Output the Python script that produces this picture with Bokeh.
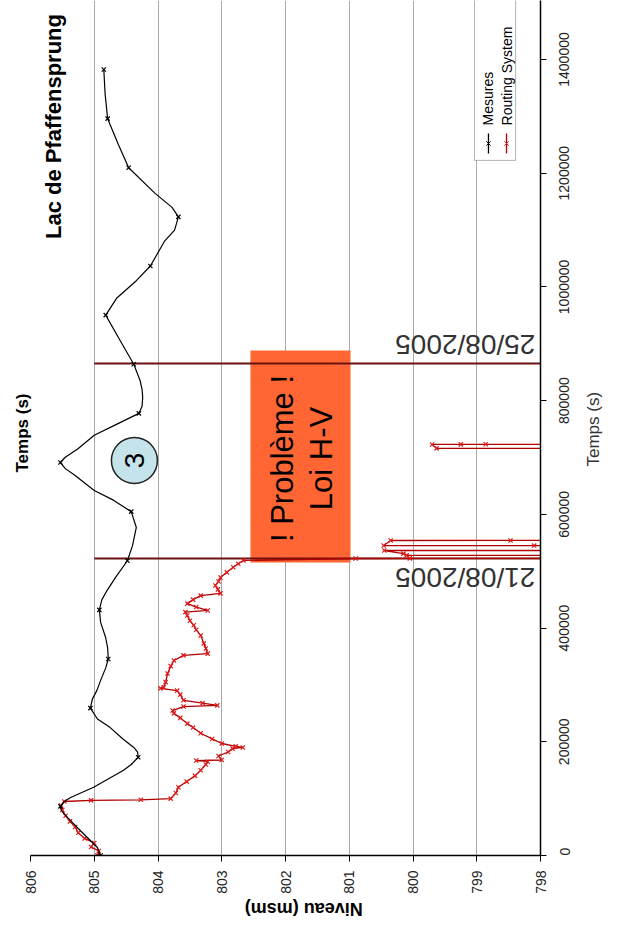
import math
from bokeh.plotting import figure
from bokeh.models import (Range1d, FixedTicker, Label, BoxAnnotation, LinearAxis,
                          CustomJSTickFormatter)
from bokeh.embed import file_html
from bokeh.resources import INLINE

# ---------------- data ----------------
mes_t = [0, 14000, 44000, 60000, 74000, 80000, 86400, 95000, 102000, 120000, 150000, 160000,
         172800, 182000, 190000, 205000, 225000, 240000, 259200, 275000, 290000, 308000,
         330000, 345600, 365000, 383000, 410000, 432000, 450000, 466000, 490000, 518400,
         545000, 577000, 604800, 625000, 642000, 670000, 680000, 691200, 700000, 715000,
         739000, 760000, 777600, 790000, 806000, 820000, 835000, 864000, 905000, 950400,
         980000, 1011000, 1036800, 1080000, 1100000, 1123200, 1140000, 1165000, 1209600,
         1250000, 1296000, 1340000, 1382400]
mes_h = [804.90, 804.95, 805.22, 805.36, 805.48, 805.52, 805.53, 805.47, 805.37, 805.01, 804.54, 804.42,
         804.31, 804.32, 804.38, 804.55, 804.75, 804.95, 805.06, 805.03, 804.96, 804.90,
         804.82, 804.78, 804.79, 804.82, 804.90, 804.92, 804.88, 804.80, 804.66, 804.48,
         804.40, 804.34, 804.42, 804.70, 805.00, 805.32, 805.45, 805.53, 805.46, 805.26,
         805.00, 804.62, 804.30, 804.25, 804.24, 804.25, 804.28, 804.38, 804.59, 804.82,
         804.65, 804.34, 804.12, 803.90, 803.74, 803.68, 803.78, 804.05, 804.46,
         804.62, 804.79, 804.83, 804.85]
# daily markers of Mesures
mes_mark_t = [0, 86400, 172800, 259200, 345600, 432000, 518400, 604800, 691200, 777600,
              864000, 950400, 1036800, 1123200, 1209600, 1296000, 1382400]
mes_mark_h = [804.90, 805.53, 804.31, 805.06, 804.78, 804.92, 804.48, 804.42, 805.53, 804.30,
              804.38, 804.82, 804.12, 803.68, 804.46, 804.79, 804.85]

# Routing System (red)
rs_t = [0, 8000, 15000, 22000, 30000, 40000, 50000, 60000, 70000, 80000,
        88000, 95000, 97000, 98000, 100000, 110000, 120000, 130000, 140000, 150000,
        160000, 165000, 167000, 168000, 175000, 182000, 188000, 190000, 192000, 197000,
        205000, 215000, 225000, 232000, 242000, 250000, 255000, 262000, 264000, 268000,
        273000, 283000, 290000, 294000, 296000, 305000, 320000, 333000, 343000, 352000,
        355000, 364000, 373000, 387000, 397000, 405000, 413000, 422000, 428000, 431000,
        437000, 443000, 450000, 457000, 461000, 468000, 475000, 482000, 489000, 498000,
        507000, 513000, 519000, 522400, 522600, 522700, 527700, 527800, 531000, 536400,
        536500, 545000, 545100, 545200, 554000, 554100, 554200, 716000, 716100, 723000,
        723100, 723200, 723300]
rs_h = [804.95, 804.93, 805.05, 805.00, 805.15, 805.25, 805.30, 805.38, 805.45, 805.50,
        805.52, 805.47, 805.05, 804.27, 803.80, 803.72, 803.68, 803.55, 803.42, 803.33,
        803.25, 803.22, 803.40, 803.00, 803.05, 802.90, 802.83, 802.67, 802.78, 803.00,
        803.15, 803.33, 803.45, 803.54, 803.65, 803.75, 803.77, 803.60, 803.07, 803.30,
        803.60, 803.65, 803.70, 803.96, 803.91, 803.88, 803.85, 803.80, 803.75, 803.60,
        803.22, 803.25, 803.28, 803.33, 803.40, 803.44, 803.50, 803.54, 803.57, 803.22,
        803.40, 803.54, 803.45, 803.33, 803.02, 803.06, 803.10, 803.05, 803.02, 802.92,
        802.82, 802.74, 802.66, 800.90, 800.05, 796.50, 796.50, 800.10, 800.15, 800.45,
        796.50, 796.50, 798.10, 800.46, 800.35, 798.47, 796.50, 796.50, 799.63, 799.70,
        799.25, 798.86, 796.50]

date_t = [522400, 865400]
date_labels = ["21/08/2005", "25/08/2005"]
date_h_from = [805, 805]
date_h_to = [798, 798]

niveau_ticks = [798, 799, 800, 801, 802, 803, 804, 805, 806]
temps_ticks = [0, 200000, 400000, 600000, 800000, 1000000, 1200000, 1400000]
temps_labels = ["0", "200000", "400000", "600000", "800000", "1000000", "1200000", "1400000"]

FONT = "Liberation Sans"
T_PER_PX = 200000 / 113.71   # time units per screen pixel
TICK_FS = 14

# ---------------- figure ----------------
p = figure(width=616, height=940,
           x_range=Range1d(806, 798), y_range=Range1d(0, 1503800),
           y_axis_location="right",
           output_backend="svg", toolbar_location=None,
           min_border_left=30, min_border_right=76,
           min_border_top=0, min_border_bottom=85)
p.outline_line_color = None
p.background_fill_color = "white"
p.border_fill_color = "white"

# bottom axis (niveau)
xa = p.xaxis[0]
xa.ticker = FixedTicker(ticks=niveau_ticks)
xa.major_label_orientation = math.pi / 2
xa.major_label_text_font = FONT
xa.major_label_text_font_size = f"{TICK_FS}px"
xa.major_label_text_color = "#222222"
xa.axis_line_color = "black"
xa.axis_line_width = 1.5
xa.major_tick_line_color = "black"
xa.major_tick_out = 6
xa.major_tick_in = 0
xa.minor_tick_line_color = None
xa.major_label_standoff = 9

# right axis (temps): line + ticks only, its own labels are not drawn
ya = p.yaxis[0]
ya.ticker = FixedTicker(ticks=temps_ticks)
ya.formatter = CustomJSTickFormatter(code="return '';")
ya.major_label_text_font_size = "1px"
ya.major_label_text_color = None
ya.major_label_standoff = 0
ya.axis_line_color = "black"
ya.axis_line_width = 1.5
ya.major_tick_line_color = "black"
ya.major_tick_out = 6
ya.major_tick_in = 0
ya.minor_tick_line_color = None

# right tick labels, centred on their ticks (labels are start-anchored when rotated)
lab_pos = [t if t == 0 else t - len(s) * 0.556 * TICK_FS / 2 * T_PER_PX
           for t, s in zip(temps_ticks, temps_labels)]
ya_lab = LinearAxis(ticker=FixedTicker(ticks=lab_pos),
                    formatter=CustomJSTickFormatter(args=dict(labels=temps_labels),
                                                    code="return labels[index];"),
                    major_label_orientation=math.pi / 2,
                    major_label_text_font=FONT, major_label_text_font_size=f"{TICK_FS}px",
                    major_label_text_color="#222222", major_label_standoff=12,
                    axis_line_color=None, major_tick_line_color=None,
                    minor_tick_line_color=None)
p.add_layout(ya_lab, "right")


def title_axis(side, pos, text, size, bold, color, orient, standoff):
    ax = LinearAxis(ticker=FixedTicker(ticks=[pos]),
                    formatter=CustomJSTickFormatter(args=dict(t=text), code="return t;"),
                    major_label_orientation=orient, major_label_text_font=FONT,
                    major_label_text_font_size=size,
                    major_label_text_font_style="bold" if bold else "normal",
                    major_label_text_color=color, major_label_standoff=standoff,
                    axis_line_color=None, major_tick_line_color=None,
                    minor_tick_line_color=None, major_tick_out=0, major_tick_in=0)
    p.add_layout(ax, side)


# axis titles (rotated like the picture)
title_axis("right", 684200, "Temps (s)", "17px", False, "#333333", math.pi / 2, 16)
title_axis("below", 802.64, "Niveau (msm)", "18px", True, "black", math.pi, 12)
title_axis("left", 812600, "Temps (s)", "17px", True, "black", math.pi / 2, 8)

p.xgrid.ticker = FixedTicker(ticks=niveau_ticks)
p.xgrid.grid_line_color = "#A8A8A8"
p.xgrid.grid_line_width = 1
p.ygrid.grid_line_color = None

# orange problem box
p.add_layout(BoxAnnotation(left=802.55, right=800.98, bottom=515400, top=888300,
                           fill_color="#FF6633", fill_alpha=1.0, line_color=None,
                           level="underlay"))
# legend box (under the legend glyphs)
p.add_layout(BoxAnnotation(left=799.035, right=798.39, bottom=1222600, top=1600000,
                           fill_color="white", fill_alpha=1.0, line_color="black",
                           line_width=1, level="underlay"))

# date lines
p.segment(x0=date_h_from, y0=date_t, x1=date_h_to, y1=date_t,
          line_color="#6A1212", line_width=2)

# Routing System
p.line(x=rs_h, y=rs_t, line_color="#B00000", line_width=1.3)
p.scatter(x=rs_h, y=rs_t, marker="x", size=6, line_color="#E01818", line_width=1.2)

# Mesures
p.line(x=mes_h, y=mes_t, line_color="black", line_width=1.2)
p.scatter(x=mes_mark_h, y=mes_mark_t, marker="x", size=6, line_color="black", line_width=1.2)

# circled "3"
p.scatter(x=[804.37], y=[694800], marker="circle", size=46,
          fill_color="#C5E3EA", line_color="#222222", line_width=1.5)


def lab(x, y, text, size, angle=math.pi / 2, bold=False, color="black", align="center",
        baseline="middle"):
    p.add_layout(Label(x=x, y=y, text=text, angle=angle, text_font=FONT,
                       text_font_size=size, text_font_style="bold" if bold else "normal",
                       text_color=color, text_align=align, text_baseline=baseline))


lab(804.37, 694800, "3", "28px")
lab(802.05, 698300, "! Problème !", "31px")
lab(801.44, 698300, "Loi H-V", "31px")
lab(799.18, 898800, date_labels[1], "28px", angle=math.pi, color="#333333")
lab(799.18, 488900, date_labels[0], "28px", angle=math.pi, color="#333333")
lab(805.64, 1282200, "Lac de Pfaffensprung", "22px", bold=True)

# manual rotated legend
leg_h = [798.816, 798.533]
p.segment(x0=[leg_h[0]], y0=[1234700], x1=[leg_h[0]], y1=[1269900], line_color="black", line_width=1.3)
p.scatter(x=[leg_h[0]], y=[1252300], marker="x", size=6, line_color="black")
p.segment(x0=[leg_h[1]], y0=[1234700], x1=[leg_h[1]], y1=[1269900], line_color="#B00000", line_width=1.3)
p.scatter(x=[leg_h[1]], y=[1252300], marker="x", size=6, line_color="#E01818")
lab(leg_h[0], 1284000, "Mesures", "14px", align="left")
lab(leg_h[1], 1284000, "Routing System", "14px", align="left")

open("out.html", "w").write(file_html(p, INLINE))
